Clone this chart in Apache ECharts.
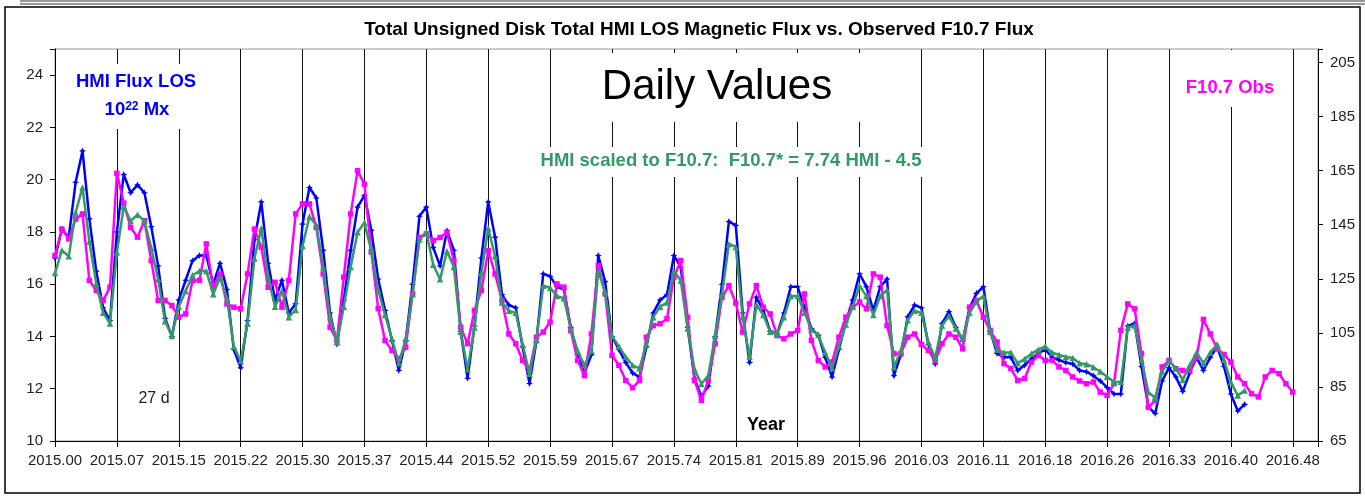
<!DOCTYPE html>
<html>
<head>
<meta charset="utf-8">
<title>HMI LOS Magnetic Flux vs F10.7</title>
<script src="https://cdn.jsdelivr.net/npm/echarts@6/dist/echarts.min.js"></script>
<style>
  html, body { margin: 0; padding: 0; background: #fff; }
  #chart { width: 1365px; height: 498px; }
</style>
</head>
<body>
<div id="chart"></div>
<script>
var dayStep = 3;
var rotation = 27; // one vertical line per solar rotation
var yearTicks = ['2015.00', '2015.07', '2015.15', '2015.22', '2015.30', '2015.37', '2015.44',
  '2015.52', '2015.59', '2015.67', '2015.74', '2015.81', '2015.89', '2015.96', '2016.03',
  '2016.11', '2016.18', '2016.26', '2016.33', '2016.40', '2016.48'];

// HMI flux LOS, 10^22 Mx (left axis)
var hmiFlux = [17.0, 18.1, 17.8, 19.9, 21.1, 18.5, 16.5, 15.1, 14.6, 18.0,
  20.2, 19.5, 19.8, 19.5, 18.2, 16.7, 14.7, 14.0, 15.4,
  16.15, 16.9, 17.1, 17.1, 16.0, 16.8, 15.8, 13.5, 12.8,
  14.6, 17.7, 19.15, 16.8, 15.4, 16.15, 14.9, 15.25, 18.3,
  19.7, 19.3, 17.3, 14.9, 13.7, 15.4, 17.3, 18.95, 19.4,
  18.06, 16.2, 15.0, 13.85, 12.7, 13.85, 16.0, 18.6, 18.95,
  17.4, 16.7, 18.05, 17.3, 14.2, 12.4, 14.4, 17.0, 19.15,
  17.8, 15.6, 15.2, 15.1, 13.6, 12.2, 13.8, 16.4, 16.3,
  15.9, 15.8, 14.35, 13.3, 12.6, 13.3, 17.1, 16.1, 14.0,
  13.5, 13.0, 12.6, 12.45, 13.6, 14.9, 15.4, 15.6, 17.1,
  16.65, 14.35, 12.4, 11.7, 12.1, 14.0, 16.0, 18.4, 18.25,
  14.9, 13.0, 15.5, 15.0, 14.2, 14.1, 14.9, 15.9, 15.9,
  15.1, 14.3, 14.05, 13.2, 12.45, 13.5, 14.55, 15.4, 16.4,
  15.9, 15.0, 15.9, 16.2, 12.5, 13.3, 14.75, 15.2, 15.1,
  13.7, 12.95, 14.5, 14.95, 14.35, 13.85, 15.1, 15.65, 15.9,
  14.2, 13.35, 13.2, 13.2, 12.7, 12.9, 13.15, 13.35, 13.5,
  13.2, 13.1, 13.0, 12.95, 12.7, 12.65, 12.5, 12.3, 12.05,
  11.8, 11.8, 14.4, 14.5, 12.85, 11.3, 11.05, 12.3, 12.8,
  12.45, 11.9, 12.6, 13.2, 12.7, 13.2, 13.6, 12.85, 11.8,
  11.15, 11.4];

// observed F10.7 (right axis)
var f107Obs = [133.6, 143.4, 139.8, 147.1, 149.0, 124.4, 120.7, 117.0, 121.9, 164,
  153, 144.0, 140.4, 146.5, 131.7, 117.0, 117.0, 115.1, 110.8,
  112.0, 124.4, 124.4, 137.9, 121.9, 126.8, 115.7, 114.5, 113.9,
  126.8, 143.4, 136.7, 121.9, 123.7, 114.5, 124.4, 149.0, 152.7,
  152.7, 144.0, 126.8, 107.1, 102.2, 125.6, 149.0, 165, 160,
  135, 114, 102.2, 98.5, 95.4, 99.7, 119.4, 140.3, 141.6,
  139.1, 140.3, 142.2, 131.7, 107.1, 101.0, 113.3, 120.7, 135.4,
  126.8, 117.0, 104.6, 101.0, 94.8, 91.1, 103.4, 105.3, 109.0,
  123.1, 121.9, 105.9, 94.8, 89.2, 104.6, 129.9, 119.4, 96.7,
  93.0, 87.4, 84.7, 87.4, 103.4, 107.7, 108.4, 110.2, 125.6,
  131.7, 110.8, 87.4, 80.0, 87.4, 101.0, 118.2, 122.5, 116,
  105.3, 115.7, 122.5, 114.5, 112.0, 104.0, 102.8, 104.6, 105.9,
  119.4, 102.2, 94.8, 92.4, 94.2, 103.4, 110.8, 114.5, 116.4,
  113.9, 126.8, 125.6, 107.7, 97.3, 97.3, 103.4, 104.6, 100.7,
  98.5, 94.8, 101.0, 104.6, 103.4, 99.1, 114.5, 117.0, 110.8,
  105.9, 101.6, 93.6, 91.8, 87.4, 88.1, 94.2, 96.7, 94.8,
  94.8, 92.4, 91.1, 88.7, 87.2, 86.2, 86.8, 83.1, 81.9,
  86.2, 105.9, 115.7, 113.9, 97.3, 77.5, 80.0, 92.4, 94.8,
  91.7, 91.1, 91.1, 96.0, 110, 104.6, 99.1, 97.0, 94.2,
  88.7, 86.2, 82.5, 81.3, 88.7, 91.1, 89.9, 86.2, 83.1];

// HMI scaled to F10.7 (right axis)
var hmiScaled = [127.1, 135.6, 133.3, 149.5, 158.8, 138.7, 123.2, 112.4, 108.5, 134.8,
  151.8, 146.4, 148.7, 146.4, 136.4, 124.8, 109.3, 103.9, 114.7,
  120.5, 126.3, 127.9, 127.9, 119.3, 125.5, 117.8, 100.0, 94.6,
  108.5, 132.5, 143.7, 125.5, 114.7, 120.5, 110.8, 113.5, 137.1,
  148.0, 144.9, 129.4, 110.8, 101.5, 114.7, 129.4, 142.2, 145.7,
  135.3, 120.9, 111.6, 102.7, 93.8, 102.7, 119.3, 139.5, 142.2,
  130.2, 124.8, 135.2, 129.4, 105.4, 91.5, 107.0, 127.1, 143.7,
  133.3, 116.2, 113.2, 112.4, 100.8, 89.9, 102.3, 122.4, 121.7,
  118.6, 117.8, 106.6, 98.4, 93.0, 98.4, 127.9, 120.1, 103.9,
  100.0, 96.1, 93.0, 91.9, 100.8, 110.8, 114.7, 116.2, 127.9,
  124.4, 106.6, 91.5, 86.1, 89.2, 103.9, 119.3, 137.9, 136.8,
  110.8, 96.1, 115.5, 111.6, 105.4, 104.6, 110.8, 118.6, 118.6,
  112.4, 106.2, 104.2, 97.7, 91.9, 100.0, 108.1, 114.7, 122.4,
  118.6, 111.6, 118.6, 120.9, 92.3, 98.4, 109.7, 113.2, 112.4,
  101.5, 95.7, 107.7, 111.2, 106.6, 102.7, 112.4, 116.6, 118.6,
  105.4, 98.8, 97.7, 97.7, 93.8, 95.3, 97.3, 98.8, 100.0,
  97.7, 96.9, 96.1, 95.7, 93.8, 93.4, 92.3, 90.7, 88.8,
  86.8, 86.8, 107.0, 107.7, 95.0, 83.0, 81.0, 90.7, 94.6,
  91.9, 87.6, 93.0, 97.7, 93.8, 97.7, 100.8, 95.0, 86.8,
  81.8, 83.7];

function toPairs(arr) {
  return arr.map(function (v, i) { return [i * dayStep, v]; });
}

var fontFamily = '"Liberation Sans", Arial, sans-serif';
var blue = '#0000ff';
var magenta = '#ff00ff';
var green = '#339966';
var starPath = 'path://M0,-10L3,-3L10,0L3,3L0,10L-3,3L-10,0L-3,-3Z';

function label(x, y, text, font, color) {
  return {
    type: 'text', x: x, y: y, z: 101,
    style: {
      text: text, font: font, fill: color,
      textAlign: 'center', textVerticalAlign: 'middle',
      align: 'center', verticalAlign: 'middle'
    }
  };
}
function whiteBox(x, y, w, h) {
  return { type: 'rect', z: 100, shape: { x: x, y: y, width: w, height: h }, style: { fill: '#fff' } };
}

var myChart = echarts.init(document.getElementById('chart'));
var option = {
  animation: false,
  backgroundColor: '#fff',
  grid: {
    left: 55, right: 47, top: 49, bottom: 57,
    show: true, borderColor: '#999', borderWidth: 1
  },
  xAxis: {
    type: 'value', min: 0, max: 551, interval: rotation,
    axisLine: { lineStyle: { color: '#000', width: 1 } },
    axisTick: { length: 6, lineStyle: { color: '#000' } },
    splitLine: { show: true, lineStyle: { color: '#111', width: 1 } },
    axisLabel: {
      fontSize: 15, fontFamily: fontFamily, color: '#222', margin: 12,
      formatter: function (v) {
        return v % rotation === 0 ? yearTicks[v / rotation] : '';
      }
    }
  },
  yAxis: [
    {
      type: 'value', position: 'left', min: 10, max: 25, interval: 2,
      axisLine: { show: true, lineStyle: { color: '#000' } },
      axisTick: { show: true, length: 5, lineStyle: { color: '#000' } },
      splitLine: { show: false },
      axisLabel: {
        fontSize: 15, fontFamily: fontFamily, color: '#222', margin: 12,
        formatter: function (v) { return v <= 24 ? v : ''; }
      }
    },
    {
      type: 'value', position: 'right', min: 65, max: 210, interval: 20,
      axisLine: { show: true, lineStyle: { color: '#000' } },
      axisTick: { show: true, length: 5, lineStyle: { color: '#000' } },
      splitLine: { show: false },
      axisLabel: {
        fontSize: 15, fontFamily: fontFamily, color: '#222', margin: 12,
        formatter: function (v) { return v <= 205 ? v : ''; }
      }
    }
  ],
  series: [
    {
      name: 'HMI Flux LOS', type: 'line', yAxisIndex: 0,
      data: toPairs(hmiFlux),
      symbol: starPath, symbolSize: 7, showAllSymbol: true,
      lineStyle: { color: blue, width: 2.5 },
      itemStyle: { color: blue },
      z: 2
    },
    {
      name: 'F10.7 Obs', type: 'line', yAxisIndex: 1,
      data: toPairs(f107Obs),
      symbol: 'rect', symbolSize: 5.5, showAllSymbol: true,
      lineStyle: { color: magenta, width: 2.5 },
      itemStyle: { color: magenta },
      z: 3
    },
    {
      name: 'HMI scaled to F10.7', type: 'line', yAxisIndex: 1,
      data: toPairs(hmiScaled),
      symbol: 'triangle', symbolSize: 6.5, showAllSymbol: true,
      lineStyle: { color: green, width: 2.5 },
      itemStyle: { color: green },
      z: 4
    }
  ],
  graphic: [
    { type: 'rect', z: 100, shape: { x: 5, y: 7, width: 1355, height: 486 }, style: { fill: 'none', stroke: '#000', lineWidth: 1.5 } },
    { type: 'line', z: 100, shape: { x1: 20, y1: 1, x2: 1365, y2: 1 }, style: { stroke: '#333', lineWidth: 1 } },
    { type: 'line', z: 100, shape: { x1: 20, y1: 4, x2: 1365, y2: 4 }, style: { stroke: '#333', lineWidth: 1 } },
    whiteBox(72, 64, 130, 65),
    whiteBox(592, 53, 272, 69),
    whiteBox(536, 147, 392, 30),
    whiteBox(1180, 50, 100, 57),
    label(699, 30, 'Total Unsigned Disk Total HMI LOS Magnetic Flux vs. Observed F10.7 Flux', 'bold 19px ' + fontFamily, '#000'),
    label(717, 87, 'Daily Values', '42px ' + fontFamily, '#000'),
    label(136, 82, 'HMI Flux LOS', 'bold 18.5px ' + fontFamily, blue),
    {
      type: 'text', x: 137, y: 110, z: 101,
      style: {
        text: '{b|10}{s|22}{b| Mx}',
        textAlign: 'center', textVerticalAlign: 'middle',
        align: 'center', verticalAlign: 'middle',
        rich: {
          b: { font: 'bold 18.5px ' + fontFamily, fill: blue },
          s: { font: 'bold 12px ' + fontFamily, fill: blue, verticalAlign: 'top' }
        }
      }
    },
    label(731, 161, 'HMI scaled to F10.7:  F10.7* = 7.74 HMI - 4.5', 'bold 18.5px ' + fontFamily, green),
    label(1230, 88, 'F10.7 Obs', 'bold 18.5px ' + fontFamily, magenta),
    label(154, 399, '27 d', '16px ' + fontFamily, '#222'),
    label(766, 425, 'Year', 'bold 18px ' + fontFamily, '#000')
  ]
};
myChart.setOption(option);
</script>
</body>
</html>
